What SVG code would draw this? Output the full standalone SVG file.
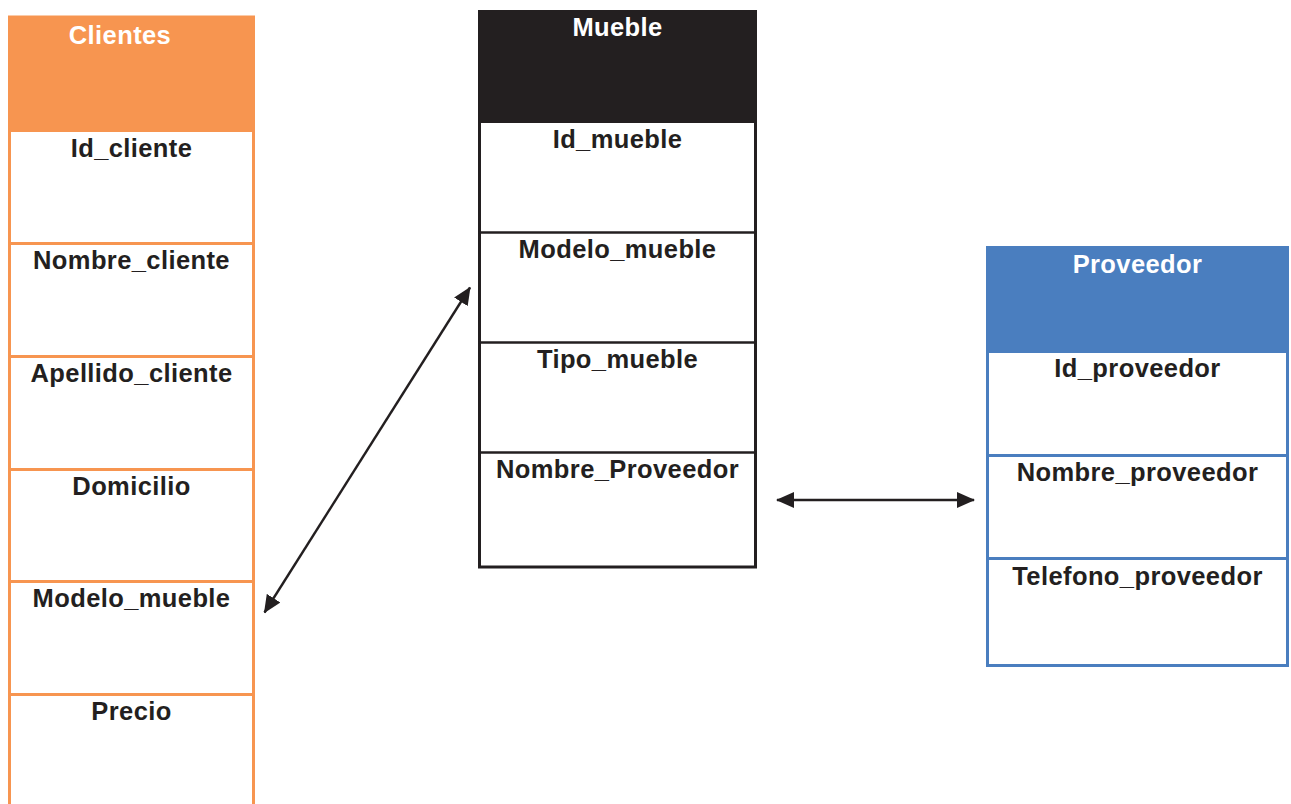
<svg xmlns="http://www.w3.org/2000/svg" width="1291" height="804" viewBox="0 0 1291 804">
<style>
.hdr{font-family:"Liberation Sans",Arial,sans-serif;font-weight:bold;font-size:25.5px;fill:#ffffff;text-anchor:middle;letter-spacing:0.4px}
.fld{font-family:"Liberation Sans",Arial,sans-serif;font-weight:bold;font-size:25.5px;fill:#231f20;text-anchor:middle;letter-spacing:0.4px}
.conn{stroke:#231f20;stroke-width:2.4;fill:none}
</style>
<defs>
<marker id="ah" viewBox="0 0 18 16" refX="17" refY="8" markerWidth="18" markerHeight="16" markerUnits="userSpaceOnUse" orient="auto-start-reverse">
<path d="M0,0 L18,8 L0,16 Z" fill="#231f20"/>
</marker>
</defs>
<rect width="1291" height="804" fill="#ffffff"/>
<g id="clientes">
<rect x="8" y="17" width="247" height="115" fill="#f79550"/>
<rect x="9.5" y="17" width="244" height="800" fill="none" stroke="#f79550" stroke-width="3"/>
<g stroke="#f79550" stroke-width="3">
<line x1="8" y1="243.5" x2="255" y2="243.5"/>
<line x1="8" y1="356.5" x2="255" y2="356.5"/>
<line x1="8" y1="469.5" x2="255" y2="469.5"/>
<line x1="8" y1="581.5" x2="255" y2="581.5"/>
<line x1="8" y1="694.5" x2="255" y2="694.5"/>
</g>
<text class="hdr" x="120" y="44">Clientes</text>
<text class="fld" x="131.5" y="157">Id_cliente</text>
<text class="fld" x="131.5" y="269">Nombre_cliente</text>
<text class="fld" x="131.5" y="382">Apellido_cliente</text>
<text class="fld" x="131.5" y="495">Domicilio</text>
<text class="fld" x="131.5" y="607">Modelo_mueble</text>
<text class="fld" x="131.5" y="720">Precio</text>
</g>
<g id="mueble">
<rect x="478" y="10" width="279" height="113" fill="#231f20"/>
<rect x="479.5" y="11.5" width="276" height="555.5" fill="none" stroke="#231f20" stroke-width="3"/>
<g stroke="#231f20" stroke-width="2.5">
<line x1="478" y1="232.5" x2="757" y2="232.5"/>
<line x1="478" y1="342.5" x2="757" y2="342.5"/>
<line x1="478" y1="452.5" x2="757" y2="452.5"/>
</g>
<text class="hdr" x="617.5" y="36">Mueble</text>
<text class="fld" x="617.5" y="148">Id_mueble</text>
<text class="fld" x="617.5" y="258">Modelo_mueble</text>
<text class="fld" x="617.5" y="368">Tipo_mueble</text>
<text class="fld" x="617.5" y="478">Nombre_Proveedor</text>
</g>
<g id="proveedor">
<rect x="986" y="246" width="303" height="107" fill="#4a7ebf"/>
<rect x="987.5" y="247.5" width="300" height="418" fill="none" stroke="#4a7ebf" stroke-width="3"/>
<g stroke="#4a7ebf" stroke-width="3">
<line x1="986" y1="455.5" x2="1289" y2="455.5"/>
<line x1="986" y1="558.5" x2="1289" y2="558.5"/>
</g>
<text class="hdr" x="1137.5" y="273">Proveedor</text>
<text class="fld" x="1137.5" y="377">Id_proveedor</text>
<text class="fld" x="1137.5" y="481">Nombre_proveedor</text>
<text class="fld" x="1137.5" y="585">Telefono_proveedor</text>
</g>
<g id="connectors">
<line class="conn" x1="264.5" y1="612.5" x2="470" y2="287.5" marker-start="url(#ah)" marker-end="url(#ah)"/>
<line class="conn" x1="777" y1="500" x2="974" y2="500" marker-start="url(#ah)" marker-end="url(#ah)"/>
</g>
</svg>
